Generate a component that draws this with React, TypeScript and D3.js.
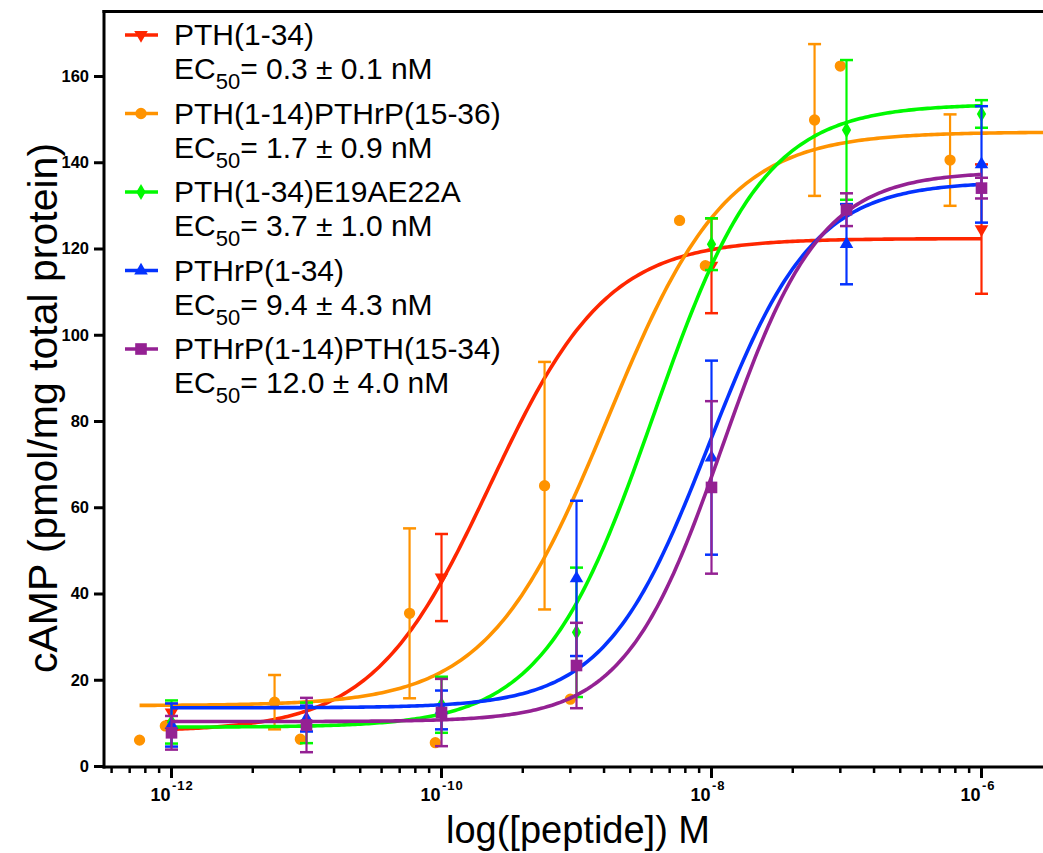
import { useEffect, useRef } from "react"
import * as d3 from "d3"

// doses (M) shared by the decade series
const doses = [1e-12, 1e-11, 1e-10, 1e-9, 1e-8, 1e-7, 1e-6]

// PTH(1-34)
const pthDose = [1e-12, 1e-10, 1e-8, 1e-6]
const pthMean = [12.4, 43.7, 116, 124.5]
const pthErr = [2, 10.1, 11, 15]

// PTH(1-14)PTHrP(15-36)
const hybDose = [5.8e-13, 9e-13, 5.8e-12, 9e-12, 5.8e-11, 9e-11, 5.8e-10, 9e-10, 5.8e-9, 9e-9, 5.8e-8, 9e-8, 5.85e-7]
const hybMean = [6.0, 9.3, 14.8, 6.2, 35.4, 5.4, 65.0, 15.5, 126.5, 116, 149.8, 162.3, 140.5]
const hybErr = [0, 0, 6.3, 0, 19.7, 0, 28.7, 0, 0, 0, 17.6, 0, 10.6]

// PTH(1-34)E19AE22A
const mutMean = [10.2, 10.0, 14.2, 31.0, 121, 147.5, 151.2]
const mutErr = [5, 4.7, 6.5, 15, 6, 16.2, 3.2]

// PTHrP(1-34)
const rpMean = [9.5, 11, 13, 43.5, 71.5, 121, 139.5]
const rpErr = [5, 3, 4.5, 18, 22.5, 9.3, 13.5]

// PTHrP(1-14)PTH(15-34)
const rhMean = [7.7, 9.5, 12.4, 23.3, 64.6, 129, 134]
const rhErr = [3.9, 6.3, 7.8, 9.9, 20, 3.8, 2.4]

const names = ["PTH(1-34)", "PTH(1-14)PTHrP(15-36)", "PTH(1-34)E19AE22A", "PTHrP(1-34)", "PTHrP(1-14)PTH(15-34)"]
const ec50Text = ["= 0.3 ± 0.1 nM", "= 1.7 ± 0.9 nM", "= 3.7 ± 1.0 nM", "= 9.4 ± 4.3 nM", "= 12.0 ± 4.0 nM"]
const colors = ["#ff2600", "#ff9300", "#00f900", "#0433ff", "#942193"]
const shapes = ["down", "circle", "diamond", "up", "square"]

// sigmoidal dose-response fits (bottom, top, logEC50, hill)
const fitBottom = [8, 14, 9, 13.5, 10.3]
const fitTop = [122.3, 147, 153.5, 135.5, 137.8]
const fitLogEC50 = [-9.64, -8.77, -8.43, -8.02, -7.92]
const fitHill = [1.0, 0.98, 1.06, 1.13, 1.2]
const fitFrom = [1e-12, 5.8e-13, 1e-12, 1e-12, 1e-12]
const fitTo = [1e-6, 3.2e-6, 1e-6, 1e-6, 1e-6]

const yTicks = [0, 20, 40, 60, 80, 100, 120, 140, 160]
const xMajor = [1e-12, 1e-10, 1e-8, 1e-6]
const xMajorExp = ["-12", "-10", "-8", "-6"]

const font = "'Liberation Sans', Arial, sans-serif"

export default function App() {
  const ref = useRef<SVGSVGElement>(null)

  useEffect(() => {
    const svg = d3.select(ref.current)
    svg.selectAll("*").remove()

    const W = 1043
    const left = 104, top = 11.5, bottom = 766

    const x = d3.scaleLog().domain([Math.pow(10, -12.5), Math.pow(10, -5.5)]).range([left, left + 7 * 135])
    const y = d3.scaleLinear().domain([0, 175]).range([bottom, bottom - 175 * 4.3125])

    const series = [
      { dose: pthDose, mean: pthMean, err: pthErr },
      { dose: hybDose, mean: hybMean, err: hybErr },
      { dose: doses, mean: mutMean, err: mutErr },
      { dose: doses, mean: rpMean, err: rpErr },
      { dose: doses, mean: rhMean, err: rhErr },
    ]

    const symbolFor = (s: string) => {
      if (s === "circle") return d3.symbol().type(d3.symbolCircle).size(100)()
      if (s === "square") return d3.symbol().type(d3.symbolSquare).size(135)()
      if (s === "diamond") return d3.symbol().type(d3.symbolDiamond).size(75)()
      return d3.symbol().type(d3.symbolTriangle).size(80)()
    }
    const rot = (s: string) => (s === "down" ? " rotate(180)" : "")

    const plot = svg.append("g")

    series.forEach((ser, i) => {
      const c = colors[i]
      // fitted curve
      const lo = Math.log10(fitFrom[i]), hi = Math.log10(fitTo[i])
      const pts = d3.range(0, 301).map(k => {
        const lx = lo + (hi - lo) * k / 300
        const v = fitBottom[i] + (fitTop[i] - fitBottom[i]) / (1 + Math.pow(10, (fitLogEC50[i] - lx) * fitHill[i]))
        return [x(Math.pow(10, lx)), y(v)] as [number, number]
      })
      plot.append("path")
        .attr("d", d3.line()(pts))
        .attr("fill", "none")
        .attr("stroke", c)
        .attr("stroke-width", 3.6)

      const data = ser.dose.map((d, j) => ({ d, m: ser.mean[j], e: ser.err[j] }))
      const g = plot.append("g")
      const bars = data.filter(p => p.e > 0)
      g.selectAll(".bar").data(bars).enter().append("line")
        .attr("x1", p => x(p.d)).attr("x2", p => x(p.d))
        .attr("y1", p => y(p.m - p.e)).attr("y2", p => y(p.m + p.e))
        .attr("stroke", c).attr("stroke-width", 2.2)
      g.selectAll(".capt").data(bars).enter().append("line")
        .attr("x1", p => x(p.d) - 6.5).attr("x2", p => x(p.d) + 6.5)
        .attr("y1", p => y(p.m + p.e)).attr("y2", p => y(p.m + p.e))
        .attr("stroke", c).attr("stroke-width", 2.5)
      g.selectAll(".capb").data(bars).enter().append("line")
        .attr("x1", p => x(p.d) - 6.5).attr("x2", p => x(p.d) + 6.5)
        .attr("y1", p => y(p.m - p.e)).attr("y2", p => y(p.m - p.e))
        .attr("stroke", c).attr("stroke-width", 2.5)
      g.selectAll(".pt").data(data).enter().append("path")
        .attr("d", symbolFor(shapes[i]))
        .attr("transform", p => `translate(${x(p.d)},${y(p.m)})${rot(shapes[i])}`)
        .attr("fill", c)
    })

    // frame
    const ax = svg.append("g").attr("stroke", "#000").attr("stroke-width", 3)
    ax.append("line").attr("x1", left).attr("x2", left).attr("y1", top - 1.5).attr("y2", bottom + 2.5)
    ax.append("line").attr("x1", left - 1.5).attr("x2", W).attr("y1", top).attr("y2", top)
    ax.append("line").attr("x1", left - 1.5).attr("x2", W).attr("y1", bottom + 1).attr("y2", bottom + 1)

    // y axis
    const yg = svg.append("g").attr("transform", `translate(${left},0)`)
      .call(d3.axisLeft(y).tickValues(yTicks).tickSize(10).tickPadding(5))
    yg.select(".domain").remove()
    yg.selectAll(".tick line").attr("stroke-width", 3)
    yg.selectAll(".tick text").attr("font-family", font).attr("font-weight", "bold").attr("font-size", 16.5).attr("fill", "#000")

    // x axis ticks (minor ticks spaced as a base-100 log axis)
    const minor: number[] = []
    ;[-14, -12, -10, -8, -6].forEach(m => {
      for (let k = 2; k <= 9; k++) minor.push(Math.pow(10, m + 2 * Math.log10(k)))
    })
    const [d0, d1] = x.domain()
    const xt = svg.append("g").attr("stroke", "#000")
    xt.selectAll(".mn").data(minor.filter(v => v > d0 && v < d1)).enter().append("line")
      .attr("x1", v => x(v)).attr("x2", v => x(v))
      .attr("y1", bottom + 1).attr("y2", bottom + 7)
      .attr("stroke-width", 2.5)
    xt.selectAll(".mj").data(xMajor).enter().append("line")
      .attr("x1", v => x(v)).attr("x2", v => x(v))
      .attr("y1", bottom + 1).attr("y2", bottom + 12)
      .attr("stroke-width", 3)
    const xl = svg.append("g").attr("font-family", font).attr("font-weight", "bold").attr("fill", "#000")
    xl.selectAll(".b").data(xMajor).enter().append("text")
      .attr("x", v => x(v) - 1).attr("y", 801).attr("text-anchor", "end").attr("font-size", 18)
      .text("10")
    xl.selectAll(".e").data(xMajor).enter().append("text")
      .attr("x", v => x(v) + 0.5).attr("y", 790).attr("font-size", 13).attr("letter-spacing", 1)
      .text((_, i) => xMajorExp[i])

    // axis titles
    svg.append("text")
      .attr("x", 446).attr("y", 843)
      .attr("font-family", font).attr("font-size", 38).attr("fill", "#000")
      .text("log([peptide]) M")
    svg.append("text")
      .attr("transform", "translate(57,408) rotate(-90)")
      .attr("text-anchor", "middle")
      .attr("font-family", font).attr("font-size", 41).attr("fill", "#000")
      .text("cAMP (pmol/mg total protein)")

    // legend
    const lg = svg.append("g").attr("font-family", font).attr("fill", "#000")
    names.forEach((n, i) => {
      const base = 45 + i * 78.5
      const my = base - 10
      lg.append("line").attr("x1", 125).attr("x2", 158).attr("y1", my).attr("y2", my)
        .attr("stroke", colors[i]).attr("stroke-width", 3.6)
      lg.append("path").attr("d", symbolFor(shapes[i]))
        .attr("transform", `translate(141,${my})${rot(shapes[i])}`)
        .attr("fill", colors[i])
      lg.append("text").attr("x", 174).attr("y", base).attr("font-size", 30).text(n)
      const t = lg.append("text").attr("x", 174).attr("y", base + 34).attr("font-size", 30)
      t.append("tspan").text("EC")
      t.append("tspan").attr("font-size", 22).attr("dy", 10).text("50")
      t.append("tspan").attr("dy", -10).text(ec50Text[i])
    })
  }, [])

  return (
    <div style={{ position: "absolute", left: 0, top: 0, width: 1043, height: 853, overflow: "hidden", background: "#fff" }}>
      <svg ref={ref} width={1043} height={853} />
    </div>
  )
}
